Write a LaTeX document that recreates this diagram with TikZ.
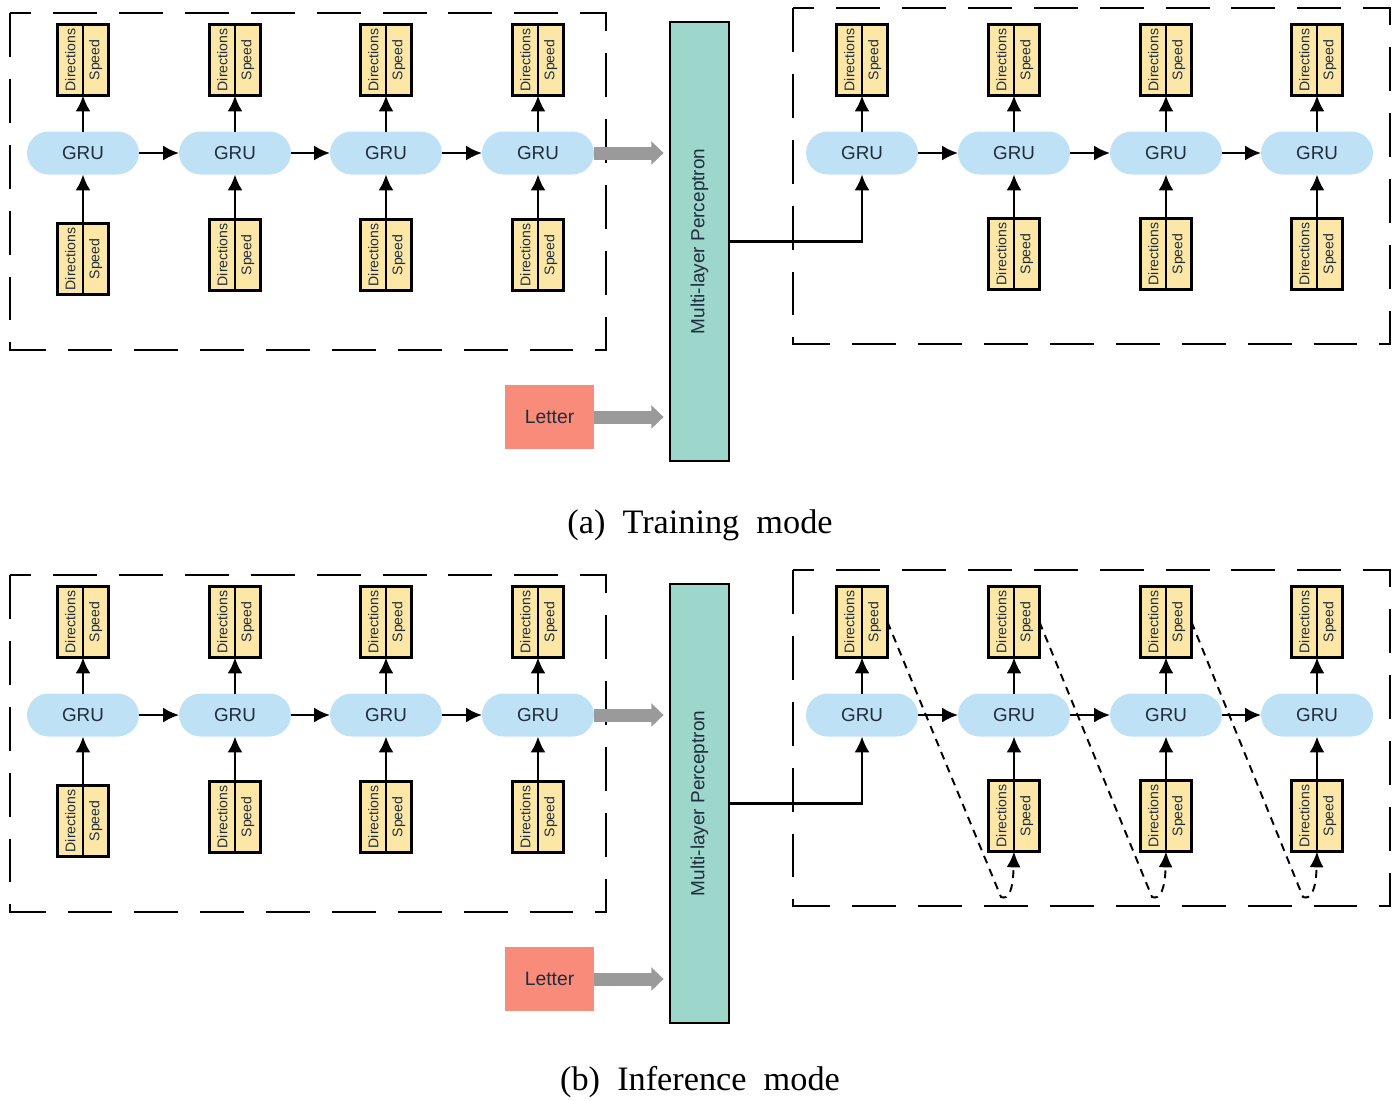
\documentclass[tikz,border=0pt]{standalone}
\usepackage{fontspec}
\setmainfont{Liberation Serif}
\setsansfont{Liberation Sans}
\usetikzlibrary{arrows.meta,shapes.misc}
\definecolor{grublue}{HTML}{BFE1F6}
\definecolor{boxyellow}{HTML}{FDE7A6}
\definecolor{mlpteal}{HTML}{9DD6CA}
\definecolor{lettersalmon}{HTML}{F98B7A}
\definecolor{greyarrow}{HTML}{9A9A9A}
\definecolor{txt}{HTML}{1F2D3D}
\tikzset{
  gru/.style={rounded rectangle, fill=grublue, minimum width=2.24cm, minimum height=0.86cm, inner sep=0pt, outer sep=0pt, text=txt, font=\sffamily\fontsize{10.7}{12}\selectfont},
  dcell/.style={draw, line width=1.45pt, fill=boxyellow, minimum width=0.51cm, minimum height=1.42cm, inner sep=0pt, outer sep=0pt, text=txt, font=\sffamily\fontsize{8}{9}\selectfont},
  mlpbox/.style={draw, line width=1.3pt, fill=mlpteal, minimum width=1.18cm, minimum height=8.78cm, inner sep=0pt, text=txt, font=\sffamily\fontsize{10.8}{12}\selectfont},
  letterbox/.style={fill=lettersalmon, minimum width=1.78cm, minimum height=1.28cm, inner sep=0pt, text=txt, font=\sffamily\fontsize{11}{12}\selectfont},
  arr/.style={line width=1.4pt, -{Latex[length=9pt,width=8.5pt]}},
  greyarr/.style={draw=greyarrow, line width=7.4pt, -{Triangle[length=7pt,width=13pt]}, shorten >=3pt},
  bigdash/.style={line width=1.3pt, dash pattern=on 25pt off 12.5pt},
  fbdash/.style={line width=1.1pt, dash pattern=on 4.5pt off 3.5pt, -{Latex[length=9pt,width=8pt]}},
  captionnode/.style={font=\fontsize{19.5}{22}\selectfont}
}
\newcommand{\dsbox}[3]{%
  \node[dcell,anchor=east] (#1-d) at (#2,#3) {\rotatebox{90}{Directions}};
  \node[dcell,anchor=west] (#1-s) at (#2,#3) {\rotatebox{90}{Speed}};}
\newcommand{\mypanel}[2]{%
  % dashed group boxes
  \draw[bigdash] (10,#2+13) rectangle (606,#2+350);
  \draw[bigdash] (793,#2+8) rectangle (1390,#2+344);
  % left encoder chain
  \foreach \i/\x/\yb in {1/83/259,2/235/255,3/386/255,4/538/255}{
    \node[gru] (#1L\i) at (\x,#2+153) {GRU};
    \dsbox{#1LT\i}{\x}{#2+60}
    \dsbox{#1LB\i}{\x}{#2+\yb}
    \draw[arr] (#1L\i.north) -- (#1LT\i-d.south east);
    \draw[arr] (#1LB\i-d.north east) -- (#1L\i.south);
  }
  \foreach \i/\j in {1/2,2/3,3/4}{\draw[arr] (#1L\i.east) -- (#1L\j.west);}
  % MLP and letter
  \node[mlpbox] (#1mlp) at (699.5,#2+241.5) {\rotatebox{90}{Multi-layer Perceptron}};
  \node[letterbox] (#1letter) at (549.5,#2+417) {Letter};
  \draw[greyarr] (#1L4.east) -- (#1mlp.west |- #1L4.east);
  \draw[greyarr] (#1letter.east) -- (#1mlp.west |- #1letter.east);
  % right decoder chain
  \foreach \i/\x in {1/862,2/1014,3/1166,4/1317}{
    \node[gru] (#1R\i) at (\x,#2+153) {GRU};
    \dsbox{#1RT\i}{\x}{#2+60}
    \draw[arr] (#1R\i.north) -- (#1RT\i-d.south east);
  }
  \foreach \i/\x in {2/1014,3/1166,4/1317}{
    \dsbox{#1RB\i}{\x}{#2+254}
    \draw[arr] (#1RB\i-d.north east) -- (#1R\i.south);
  }
  \foreach \i/\j in {1/2,2/3,3/4}{\draw[arr] (#1R\i.east) -- (#1R\j.west);}
  \draw[line width=1.2pt, -{Latex[length=9pt,width=8.5pt]}] (#1mlp.east) -| (#1R1.south);
}
\begin{document}
\begin{tikzpicture}[x=0.02cm,y=-0.02cm]
\useasboundingbox (0,0) rectangle (1395,1100);
\mypanel{a}{0}
\mypanel{b}{562}
% feedback dashed connectors (inference mode)
\coordinate (k1) at (1001,897);
\coordinate (k2) at (1152,897);
\coordinate (k3) at (1303,897);
\draw[fbdash] (bRT1-s.east) -- (k1) .. controls (1009,900) and (1013,890) .. (bRB2-d.south east);
\draw[fbdash] (bRT2-s.east) -- (k2) .. controls (1160,900) and (1165,890) .. (bRB3-d.south east);
\draw[fbdash] (bRT3-s.east) -- (k3) .. controls (1311,900) and (1316,890) .. (bRB4-d.south east);
% captions
\node[captionnode] (capa) at (700,525) {(a)\ \ Training\ \ mode};
\node[captionnode] (capb) at (700,1082) {(b)\ \ Inference\ \ mode};
\end{tikzpicture}
\end{document}
